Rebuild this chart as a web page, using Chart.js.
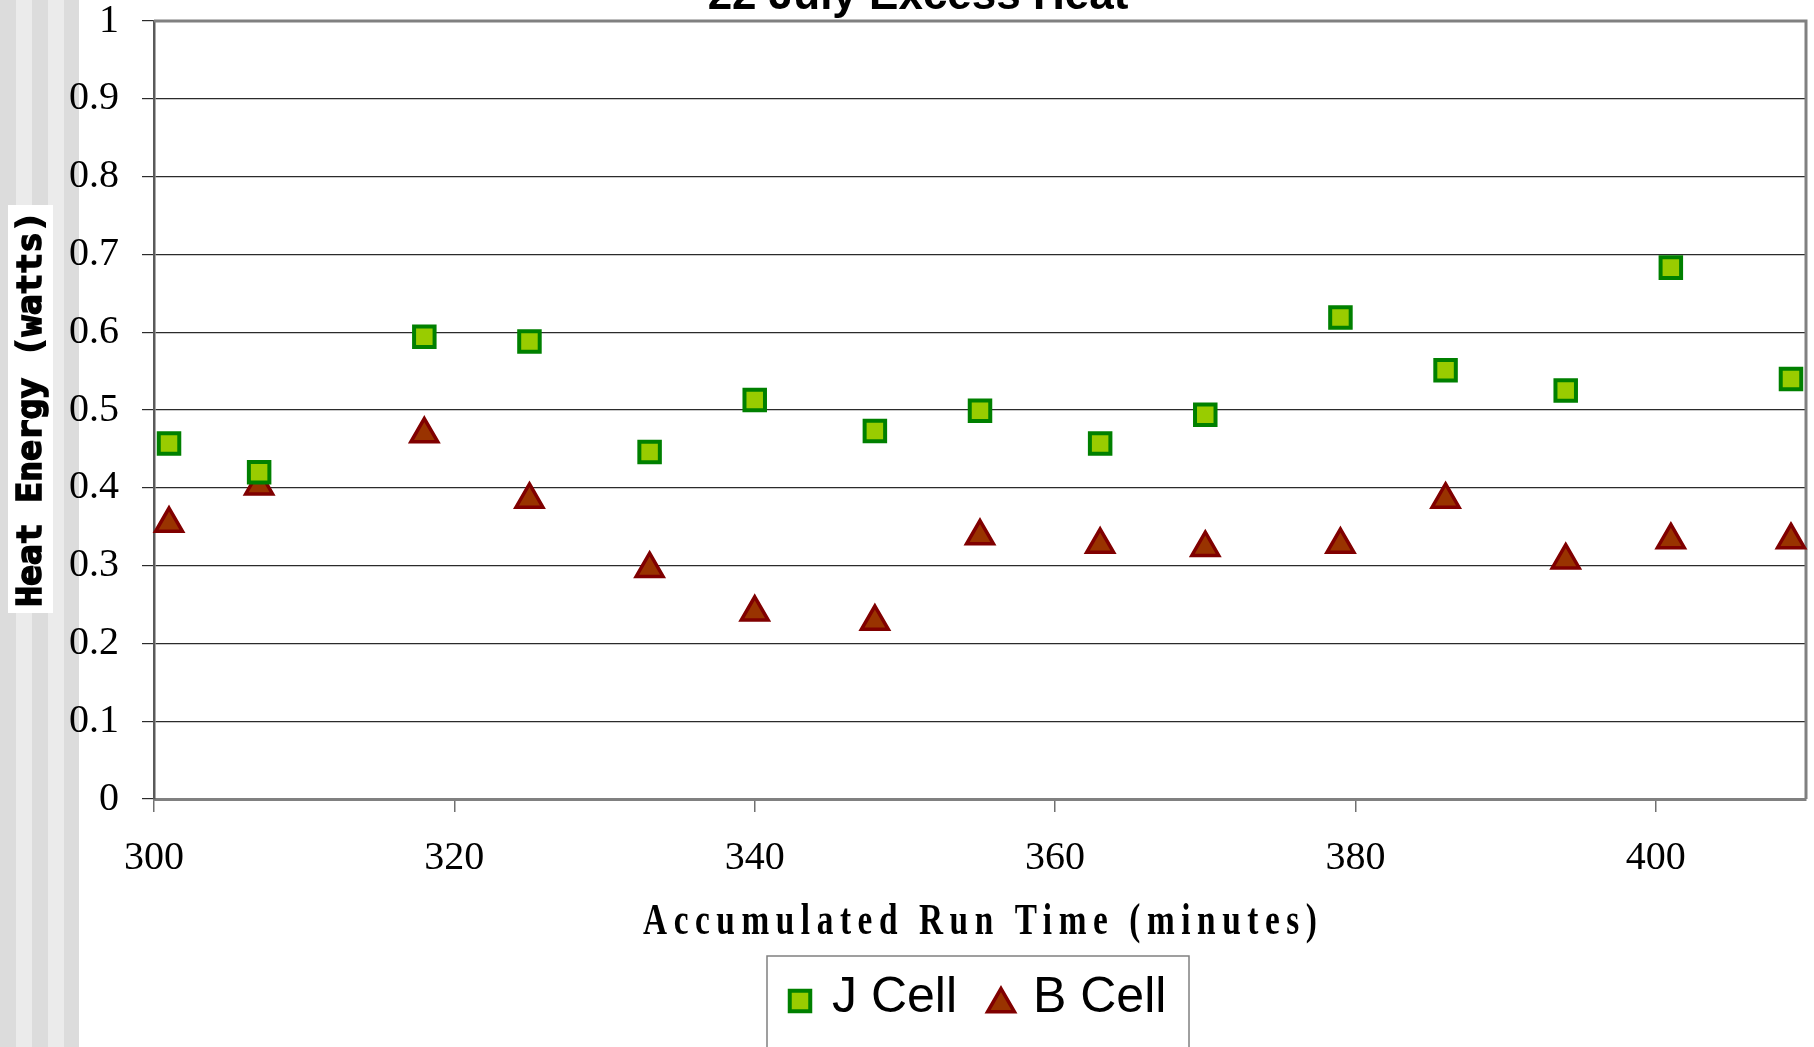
<!DOCTYPE html>
<html>
<head>
<meta charset="utf-8">
<script src="https://cdn.jsdelivr.net/npm/chart.js@4/dist/chart.umd.min.js"></script>
<style>
  html, body { margin: 0; padding: 0; background: #ffffff; }
  #wrap { position: relative; width: 1814px; height: 1047px; overflow: hidden; }
  canvas { display: block; }
</style>
</head>
<body>
<div id="wrap"><canvas id="chart" width="1814" height="1047"></canvas></div>
<script>
// Accumulated run time (minutes) for each measurement
const runTimes = [301, 307, 318, 325, 333, 340, 348, 355, 363, 370, 379, 386, 394, 401, 409];
// Excess heat (watts) for the two cells
const jCellHeat = [0.457, 0.420, 0.594, 0.588, 0.446, 0.513, 0.473, 0.499, 0.457, 0.494, 0.619, 0.551, 0.525, 0.683, 0.540];
const bCellHeat = [0.354, 0.402, 0.469, 0.385, 0.296, 0.240, 0.228, 0.338, 0.327, 0.323, 0.327, 0.385, 0.307, 0.333, 0.333];
// Axis tick values
const xTickValues = [300, 320, 340, 360, 380, 400];
const yTickValues = [0, 0.1, 0.2, 0.3, 0.4, 0.5, 0.6, 0.7, 0.8, 0.9, 1];

const seriesLabels = ['J Cell', 'B Cell'];
const chartTitle = '22 July Excess Heat';
const xAxisTitle = 'Accumulated Run Time (minutes)';
const yAxisTitle = 'Heat Energy (watts)';

const toPoints = (xs, ys) => xs.map((x, i) => ({ x: x, y: ys[i] }));

// Page background: grey vertical stripes on the left, white elsewhere
const backgroundPlugin = {
  id: 'pageBackground',
  beforeDraw(chart) {
    const ctx = chart.ctx;
    ctx.save();
    ctx.fillStyle = '#ffffff';
    ctx.fillRect(0, 0, chart.width, chart.height);
    const stripes = [['#dcdcdc', 0, 16], ['#ebebeb', 16, 32], ['#dcdcdc', 32, 48], ['#ebebeb', 48, 64], ['#dcdcdc', 64, 79]];
    stripes.forEach(([c, a, b]) => { ctx.fillStyle = c; ctx.fillRect(a, 0, b - a, chart.height); });
    ctx.restore();
  }
};

// Plot frame (top and right edges), titles and boxed legend
const decorPlugin = {
  id: 'decor',
  beforeDatasetsDraw(chart) {
    const { ctx, chartArea: a } = chart;
    ctx.save();
    ctx.strokeStyle = '#808080';
    ctx.lineWidth = 3;
    ctx.beginPath();
    ctx.moveTo(a.left, a.top);
    ctx.lineTo(a.right, a.top);
    ctx.lineTo(a.right, a.bottom);
    ctx.stroke();
    ctx.restore();
  },
  afterDraw(chart) {
    const { ctx, chartArea: a } = chart;
    ctx.save();

    // Chart title (sits above the top edge of the page)
    ctx.fillStyle = '#000000';
    ctx.font = 'bold 44px "Liberation Sans", Arial, sans-serif';
    ctx.textAlign = 'center';
    ctx.textBaseline = 'alphabetic';
    ctx.fillText(chartTitle, 918, 9);

    // X axis title: tall, narrow bold serif with spaced letters
    const xs = 0.74;
    ctx.font = 'bold 45px "Liberation Serif", "Times New Roman", serif';
    ctx.letterSpacing = '0px';
    const targetW = 674 / xs;
    const baseW = ctx.measureText(xAxisTitle).width;
    const sp = Math.max(0, (targetW - baseW) / (xAxisTitle.length - 1));
    ctx.letterSpacing = sp.toFixed(2) + 'px';
    ctx.textAlign = 'left';
    ctx.textBaseline = 'middle';
    const xTitleW = (baseW + sp * (xAxisTitle.length - 1)) * xs;
    ctx.save();
    ctx.translate(980 - xTitleW / 2, 922);
    ctx.scale(xs, 1);
    ctx.fillText(xAxisTitle, 0, 0);
    ctx.restore();
    ctx.letterSpacing = '0px';

    // Y axis title on a white box
    ctx.fillStyle = '#ffffff';
    ctx.fillRect(8, 205, 45, 408);
    ctx.save();
    ctx.translate(31, 409);
    ctx.rotate(-Math.PI / 2);
    ctx.fillStyle = '#000000';
    ctx.strokeStyle = '#000000';
    let fs = 35;
    ctx.font = 'bold ' + fs + 'px "DejaVu Sans Mono", monospace';
    const w0 = ctx.measureText(yAxisTitle).width;
    fs = fs * 396 / w0;
    ctx.font = 'bold ' + fs.toFixed(1) + 'px "DejaVu Sans Mono", monospace';
    ctx.textAlign = 'center';
    ctx.textBaseline = 'middle';
    ctx.lineWidth = 1.6;
    ctx.fillText(yAxisTitle, 0, 1);
    ctx.strokeText(yAxisTitle, 0, 1);
    ctx.restore();

    // Legend box
    const boxL = 767, boxR = 1189, boxT = 956;
    ctx.fillStyle = '#ffffff';
    ctx.fillRect(boxL, boxT, boxR - boxL, chart.height - boxT + 5);
    ctx.strokeStyle = '#808080';
    ctx.lineWidth = 1.5;
    ctx.strokeRect(boxL, boxT, boxR - boxL, chart.height - boxT + 10);

    ctx.font = '50px "Liberation Sans", Arial, sans-serif';
    ctx.textAlign = 'left';
    ctx.textBaseline = 'middle';
    const rowY = 998;
    const starts = [800, 1001];
    chart.data.datasets.forEach((ds, i) => {
      const cx = starts[i];
      const cy = ds.pointStyle === 'triangle' ? rowY + 6 : rowY + 3;
      ctx.fillStyle = ds.pointBackgroundColor;
      ctx.strokeStyle = ds.pointBorderColor;
      ctx.lineWidth = ds.pointBorderWidth;
      Chart.helpers.drawPoint(ctx, { pointStyle: ds.pointStyle, rotation: 0, borderWidth: ds.pointBorderWidth, radius: ds.pointRadius }, cx, cy);
      ctx.fillStyle = '#000000';
      ctx.fillText(ds.label, cx + 32, rowY);
    });

    ctx.restore();
  }
};

const chart = new Chart(document.getElementById('chart'), {
  type: 'scatter',
  data: {
    datasets: [
      {
        label: seriesLabels[0],
        data: toPoints(runTimes, jCellHeat),
        pointStyle: 'rect',
        pointRadius: 14.5,
        pointHoverRadius: 14.5,
        pointBackgroundColor: '#99cc00',
        pointBorderColor: '#008000',
        pointBorderWidth: 4,
        showLine: false,
        clip: false
      },
      {
        label: seriesLabels[1],
        data: toPoints(runTimes, bCellHeat),
        pointStyle: 'triangle',
        pointRadius: 15.5,
        pointHoverRadius: 15.5,
        pointBackgroundColor: '#993300',
        pointBorderColor: '#800000',
        pointBorderWidth: 3.5,
        showLine: false,
        clip: false
      }
    ]
  },
  options: {
    responsive: false,
    animation: false,
    devicePixelRatio: 1,
    layout: { autoPadding: false, padding: { left: 0, top: 21, right: 8, bottom: 0 } },
    plugins: {
      legend: { display: false },
      title: { display: false },
      tooltip: { enabled: false }
    },
    scales: {
      x: {
        type: 'linear',
        min: 300,
        max: 410,
        afterBuildTicks(scale) { scale.ticks = xTickValues.map(v => ({ value: v })); },
        afterFit(scale) { scale.height = 248; scale.paddingLeft = 0; scale.paddingRight = 0; },
        grid: { drawOnChartArea: false, drawTicks: true, tickLength: 13, color: '#707070', lineWidth: 1.5 },
        border: { display: true, color: '#808080', width: 3 },
        ticks: {
          padding: 22,
          color: '#000000',
          maxRotation: 0,
          font: { family: '"Liberation Serif", "Times New Roman", serif', size: 40 },
          callback: v => String(v)
        }
      },
      y: {
        type: 'linear',
        min: 0,
        max: 1,
        afterBuildTicks(scale) { scale.ticks = yTickValues.map(v => ({ value: v })); },
        afterFit(scale) { scale.width = 154; scale.paddingTop = 0; scale.paddingBottom = 0; },
        grid: { drawOnChartArea: true, drawTicks: true, tickLength: 12, color: '#2b2b2b', lineWidth: 1.2 },
        border: { display: true, color: '#5a5a5a', width: 2.5 },
        ticks: {
          padding: 23,
          color: '#000000',
          font: { family: '"Liberation Serif", "Times New Roman", serif', size: 40 },
          callback: v => String(Math.round(v * 10) / 10)
        }
      }
    }
  },
  plugins: [backgroundPlugin, decorPlugin]
});
</script>
</body>
</html>
